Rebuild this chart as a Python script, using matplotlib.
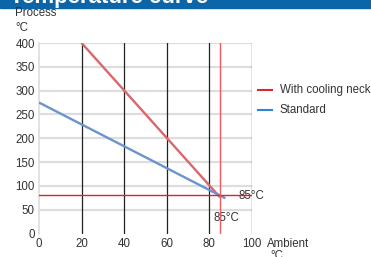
import matplotlib
matplotlib.use("Agg")
import matplotlib.pyplot as plt
from matplotlib.patches import Rectangle

plt.rcParams["font.family"] = ["Liberation Sans", "DejaVu Sans"]

# data
cooling_x = [20, 85]
cooling_y = [400, 76]
standard_x = [0, 87.5]
standard_y = [275, 74]
limit_ambient = 85
limit_process = 80
x_ticks = [0, 20, 40, 60, 80, 100]
y_ticks = [0, 50, 100, 150, 200, 250, 300, 350, 400]

TEXT = "#333333"
RED = "#d9676a"
BLUE = "#6a93cf"
FS = 8.3

fig = plt.figure(figsize=(3.71, 2.57), dpi=100)
fig.add_artist(Rectangle((0, 1 - 7.5 / 257), 1, 7.5 / 257, transform=fig.transFigure,
                         color="#0d65a9", zorder=0))
fig.text(10 / 371, 1 - 3.5 / 257, "Temperature curve", color="white", fontsize=16,
         fontweight="bold", ha="left", va="baseline")

ax = fig.add_axes([39 / 371, 1 - 233.5 / 257, 213 / 371, 190.5 / 257])
ax.set_xlim(0, 100)
ax.set_ylim(0, 400)

for y in y_ticks[1:]:
    ax.axhline(y, color="#dddddd", linewidth=1.6, zorder=1)
for x in x_ticks[1:]:
    ax.axvline(x, color="#222222", linewidth=0.9, zorder=2)

ax.plot(cooling_x, cooling_y, color=RED, linewidth=1.7, zorder=3, solid_capstyle="butt")
ax.plot(standard_x, standard_y, color=BLUE, linewidth=1.7, zorder=3, solid_capstyle="butt")
ax.axhline(limit_process, color="#e0202a", linewidth=1.0, zorder=4)
ax.axvline(limit_ambient, color="#f05a60", linewidth=1.0, zorder=4)

ax.text(93.5, limit_process - 2, "85°C", fontsize=FS, color=TEXT, ha="left", va="center")
ax.text(88, 33, "85°C", fontsize=FS, color=TEXT, ha="center", va="center")

for s in ["top", "right", "bottom"]:
    ax.spines[s].set_visible(False)
ax.spines["left"].set_color("#dddddd")
ax.spines["left"].set_linewidth(1.2)

ax.set_xticks(x_ticks)
ax.set_yticks(y_ticks)
ax.tick_params(length=0, labelsize=FS, colors=TEXT, pad=3)
ax.set_facecolor("white")

fig.text(15 / 371, 1 - 13.5 / 257, "Process", fontsize=FS, color=TEXT, ha="left", va="center")
fig.text(15 / 371, 1 - 28 / 257, "°C", fontsize=FS, color=TEXT, ha="left", va="center")
fig.text(267 / 371, 1 - 244 / 257, "Ambient", fontsize=FS, color=TEXT, ha="left", va="center")
fig.text(270 / 371, 1 - 256 / 257, "°C", fontsize=FS, color=TEXT, ha="left", va="center")

# legend
fig.add_artist(plt.Line2D([258 / 371, 272 / 371], [1 - 90 / 257] * 2, color="#d9292f",
                          linewidth=1.5, transform=fig.transFigure))
fig.add_artist(plt.Line2D([258 / 371, 272 / 371], [1 - 110 / 257] * 2, color="#2a86d8",
                          linewidth=1.5, transform=fig.transFigure))
fig.text(280 / 371, 1 - 90 / 257, "With cooling neck", fontsize=FS, color=TEXT, va="center")
fig.text(280 / 371, 1 - 110 / 257, "Standard", fontsize=FS, color=TEXT, va="center")

fig.savefig("out.png", dpi=100)
